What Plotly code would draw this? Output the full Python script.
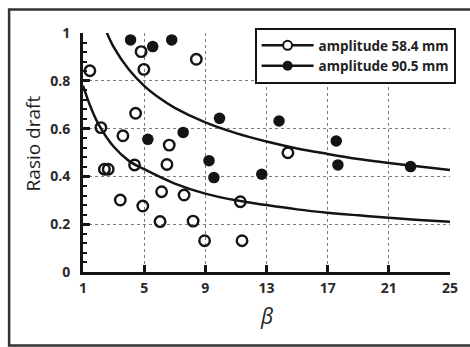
import plotly.graph_objects as go

# Data
beta_a58 = [1.45, 4.8, 8.41, 4.98, 4.44, 2.17, 3.61, 6.64, 2.4, 2.65, 4.37, 6.49,
            3.44, 4.91, 6.14, 7.61, 6.04, 8.2, 8.95, 11.29, 11.4, 14.4]
ratio_a58 = [0.842, 0.922, 0.89, 0.848, 0.664, 0.604, 0.57, 0.531, 0.43, 0.43, 0.448, 0.45,
             0.301, 0.276, 0.336, 0.322, 0.211, 0.213, 0.131, 0.294, 0.131, 0.499]

beta_a90 = [4.11, 5.56, 6.8, 5.24, 7.55, 9.24, 9.56, 12.69, 9.93, 13.82, 17.56, 17.67, 22.42]
ratio_a90 = [0.971, 0.943, 0.971, 0.555, 0.584, 0.466, 0.395, 0.409, 0.643, 0.632, 0.548, 0.448, 0.441]

# Trend curves
curve_low_beta = [1, 1.5, 2, 3, 4, 5, 7, 9, 11, 13, 15, 17, 19, 21, 23, 25]
curve_low_ratio = [0.78, 0.69, 0.62, 0.525, 0.465, 0.43, 0.37, 0.328, 0.30, 0.28,
                   0.262, 0.248, 0.237, 0.227, 0.218, 0.21]
curve_high_beta = [2.4, 3, 4, 5, 6, 7, 9, 11, 13, 15, 17, 19, 21, 23, 25]
curve_high_ratio = [1.025, 0.942, 0.847, 0.779, 0.728, 0.687, 0.626, 0.581, 0.546,
                    0.517, 0.494, 0.473, 0.456, 0.441, 0.427]

x_ticks = [1, 5, 9, 13, 17, 21, 25]
y_ticks = [0, 0.2, 0.4, 0.6, 0.8, 1]
y_tick_text = ["0", "0.2", "0.4", "0.6", "0.8", "1"]
legend_names = ["amplitude 58.4 mm", "amplitude 90.5 mm"]

INK = "#141414"
fig = go.Figure()

fig.add_trace(go.Scatter(x=curve_low_beta, y=curve_low_ratio, mode="lines",
                         line=dict(color=INK, width=2.5, shape="spline"),
                         showlegend=False, hoverinfo="skip"))
fig.add_trace(go.Scatter(x=curve_high_beta, y=curve_high_ratio, mode="lines",
                         line=dict(color=INK, width=2.5, shape="spline"),
                         showlegend=False, hoverinfo="skip"))

fig.add_trace(go.Scatter(x=beta_a58, y=ratio_a58, mode="markers",
                         marker=dict(symbol="circle-open", size=10.5, color=INK,
                                     line=dict(width=2.4, color=INK)),
                         showlegend=False))
fig.add_trace(go.Scatter(x=beta_a90, y=ratio_a90, mode="markers",
                         marker=dict(symbol="circle", size=11.5, color=INK),
                         showlegend=False))

# legend entries (line + marker symbols)
fig.add_trace(go.Scatter(x=[None], y=[None], mode="lines+markers", name=legend_names[0],
                         line=dict(color=INK, width=2.5),
                         marker=dict(symbol="circle", size=9, color="white",
                                     line=dict(width=2, color=INK))))
fig.add_trace(go.Scatter(x=[None], y=[None], mode="lines+markers", name=legend_names[1],
                         line=dict(color=INK, width=2.5),
                         marker=dict(symbol="circle", size=10, color=INK)))

L, R, T, B = 83, 17, 33, 75
W, H = 470, 347
pw, ph = W - L - R, H - T - B

def px_x(p):
    return (p - L) / pw

def px_y(p):
    return (H - B - p) / ph

fig.update_layout(
    width=W, height=H,
    margin=dict(l=L, r=R, t=T, b=B, pad=0),
    paper_bgcolor="white", plot_bgcolor="white",
    font=dict(family="Open Sans, Liberation Sans, sans-serif", color="#222"),
    xaxis=dict(range=[1, 25], tickvals=x_ticks, ticktext=[str(v) for v in x_ticks],
               ticks="inside", ticklen=7, tickwidth=3, tickcolor=INK,
               showline=True, linecolor=INK, linewidth=3,
               showgrid=True, gridcolor="#7a7a7a", griddash="dot", gridwidth=1.3,
               zeroline=False,
               tickfont=dict(size=14, color="#2a2a2a", weight="bold"),
               ticklabelstandoff=1),
    yaxis=dict(range=[0, 1], tickvals=y_ticks, ticktext=y_tick_text,
               ticks="inside", ticklen=7, tickwidth=3, tickcolor=INK,
               showline=True, linecolor=INK, linewidth=3,
               showgrid=True, gridcolor="#7a7a7a", griddash="dot", gridwidth=1.3,
               zeroline=False,
               minor=dict(dtick=0.04, ticks="inside", ticklen=4, tickwidth=2,
                          tickcolor=INK, showgrid=False),
               tickfont=dict(size=14, color="#2a2a2a", weight="bold"),
               ticklabelstandoff=7),
    legend=dict(x=px_x(256), y=px_y(28), xanchor="left", yanchor="top",
                bgcolor="white", bordercolor=INK, borderwidth=2,
                font=dict(size=13.5, color="#222", weight="bold"),
                tracegroupgap=0, itemwidth=52),
    showlegend=True,
)

fig.add_annotation(text="Rasio draft", xref="paper", yref="paper",
                   x=px_x(33), y=px_y(143), textangle=-90, showarrow=False,
                   font=dict(size=19, color="#1e1e1e", weight=500), xanchor="center", yanchor="middle")
fig.add_annotation(text="<i>β</i>", xref="paper", yref="paper",
                   x=px_x(268), y=px_y(316), showarrow=False,
                   font=dict(size=21, color="#222"), xanchor="center", yanchor="middle")

# outer frame
fig.add_shape(type="rect", xref="paper", yref="paper",
              x0=px_x(8.5), x1=px_x(475), y0=px_y(345.5), y1=px_y(9.5),
              line=dict(color="#333", width=2.5), layer="below")

fig.write_html("out.html")
